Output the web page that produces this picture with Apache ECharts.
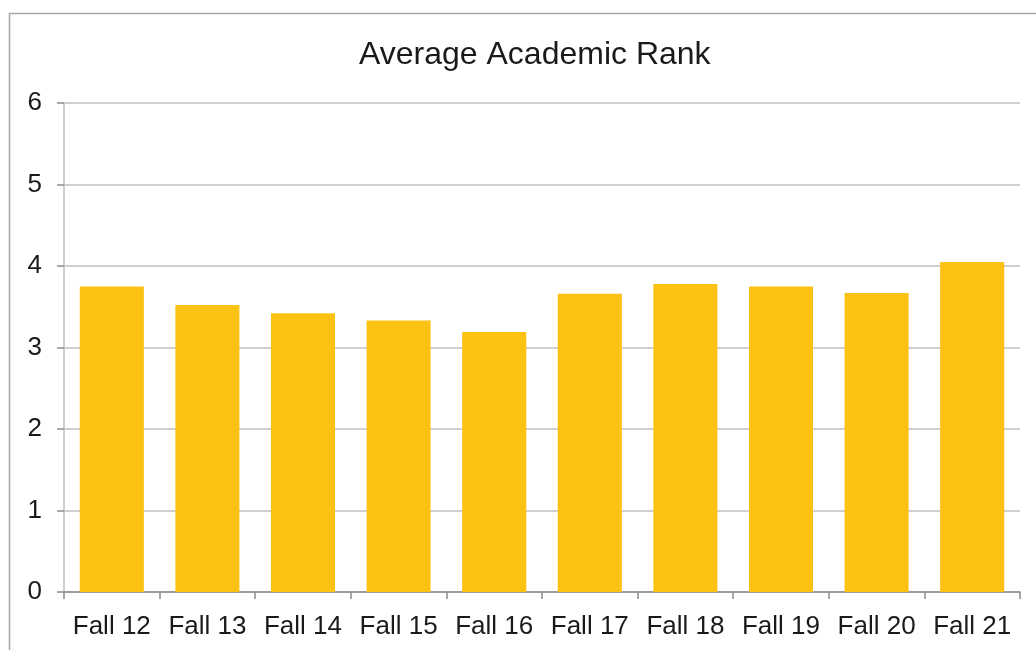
<!DOCTYPE html>
<html>
<head>
<meta charset="utf-8">
<script src="https://cdn.jsdelivr.net/npm/echarts@6/dist/echarts.min.js"></script>
<style>
  html, body { margin: 0; padding: 0; background: #fff; }
  #chart { width: 1036px; height: 650px; }
</style>
</head>
<body>
<div id="chart"></div>
<script>
// data
const terms = ['Fall 12', 'Fall 13', 'Fall 14', 'Fall 15', 'Fall 16', 'Fall 17', 'Fall 18', 'Fall 19', 'Fall 20', 'Fall 21'];
const avgRank = [3.75, 3.52, 3.42, 3.33, 3.19, 3.66, 3.78, 3.75, 3.67, 4.05];
const yTicks = [0, 1, 2, 3, 4, 5, 6];

const chart = echarts.init(document.getElementById('chart'));
const option = {
    animation: false,
    title: {
        text: 'Average Academic Rank',
        left: 354,
        top: 34,
        textStyle: {
            fontFamily: 'Liberation Sans',
            fontWeight: 'normal',
            fontSize: 32,
            color: '#1a1a1a'
        }
    },
    // outer chart border, runs off the page on the right and bottom
    graphic: [{
        type: 'rect',
        shape: { x: 9.5, y: 13.5, width: 1100, height: 700 },
        style: { fill: 'none', stroke: '#a6a6a6', lineWidth: 1.5 },
        silent: true
    }],
    grid: {
        left: 64,
        right: 16,
        top: 103,
        bottom: 58
    },
    xAxis: {
        type: 'category',
        data: terms,
        axisLine: { lineStyle: { color: '#8c8c8c', width: 1.5 } },
        axisTick: { show: true, interval: 0, length: 7, lineStyle: { color: '#8c8c8c', width: 1.5 } },
        axisLabel: {
            interval: 0,
            fontFamily: 'Liberation Sans',
            fontSize: 26,
            color: '#1a1a1a',
            margin: 22
        }
    },
    yAxis: {
        type: 'value',
        min: yTicks[0],
        max: yTicks[yTicks.length - 1],
        interval: 1,
        axisLine: { show: true, lineStyle: { color: '#bfbfbf', width: 1.5 } },
        axisTick: { show: true, length: 7, lineStyle: { color: '#8c8c8c', width: 1.5 } },
        axisLabel: {
            fontFamily: 'Liberation Sans',
            fontSize: 26,
            color: '#1a1a1a',
            margin: 22
        },
        splitLine: { lineStyle: { color: '#bfbfbf', width: 1.5 } }
    },
    series: [{
        type: 'bar',
        data: avgRank,
        barWidth: '67%',
        itemStyle: { color: '#fbc213' }
    }]
};
chart.setOption(option);
</script>
</body>
</html>
